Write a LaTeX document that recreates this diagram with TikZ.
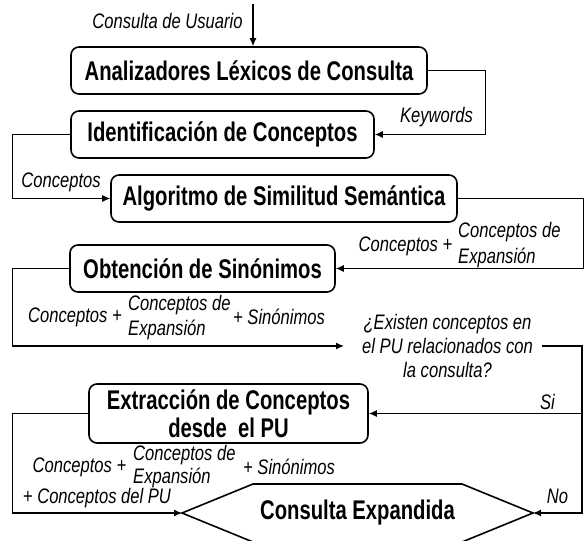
\documentclass[tikz,border=0pt]{standalone}
\usepackage{fontspec}
\setmainfont{Liberation Sans}
\newfontfamily\narrowfont{Liberation Sans}[FakeStretch=0.75]
\newfontfamily\labelfont{Liberation Sans}[FakeStretch=0.79]
\usetikzlibrary{arrows.meta}
\tikzset{
  proc/.style={draw, line width=1.6pt, rounded corners=8pt, minimum height=47pt, inner sep=0pt,
    font=\narrowfont\bfseries\fontsize{27}{28}\selectfont, align=center},
  lbl/.style={inner sep=0pt, font=\labelfont\itshape\fontsize{21}{24}\selectfont},
  conn/.style={line width=1.2pt, -{Latex[length=8pt,width=7pt]}},
  plain/.style={line width=1.2pt}
}
\begin{document}
\begin{tikzpicture}[x=1pt,y=-1pt]
\useasboundingbox (0,0) rectangle (585,540);
\clip (0,0) rectangle (585,540);
% boxes
\node[proc, minimum width=356pt] (b1) at (249,70.5) {Analizadores Léxicos de Consulta};
\node[proc, minimum width=303pt] (b2) at (222.5,134.5) {Identificación de Conceptos};
\node[proc, minimum width=346pt] (b3) at (284,198.5) {Algoritmo de Similitud Semántica};
\node[proc, minimum width=265pt] (b4) at (202.5,268.5) {Obtención de Sinónimos};
\node[proc, minimum width=279pt, minimum height=59pt] (b5) at (228.5,413.5) {Extracción de Conceptos\\desde\ \ el PU};
\node[lbl, align=center, inner xsep=9pt] (q) at (447.5,346) {¿Existen conceptos en\\el PU relacionados con\\la consulta?};
% hexagon
\coordinate (hexL) at (182,513);
\coordinate (hexR) at (533,513);
\draw[line width=1.6pt] (hexL) -- (253,484) -- (462,484) -- (hexR) -- (462,542) -- (253,542) -- cycle;
\node[inner sep=0pt, font=\narrowfont\bfseries\fontsize{27}{28}\selectfont] (hex) at (357.5,513) {Consulta Expandida};
% start
\coordinate (start) at (253,4);
% connectors
\draw[conn] (start) -- (b1.north -| start);
\draw[conn] (b1.east) -- ++(58,0) |- (b2.east);
\draw[conn] (b2.west) -- ++(-58,0) |- (b3.west);
\draw[conn] (b3.east) -- ++(126,0) |- (b4.east);
\draw[conn] (b4.west) -- ++(-57,0) |- ([xshift=-9pt]q.west);
\draw[conn] (q.east) -- ++(40,0) |- (b5.east);
\draw[conn] ([xshift=40pt]q.east) |- (hexR);
\draw[conn] (b5.west) -- ++(-76,0) |- (hexL);
% labels
\node[lbl] (l0) at (167.5,21) {Consulta de Usuario};
\node[lbl] (l1) at (436.5,117) {Keywords};
\node[lbl] (l2) at (61,182) {Conceptos};
\node[lbl] (l3a) at (405.5,246) {Conceptos +};
\node[lbl, anchor=west] (l3b) at (458,232) {Conceptos de};
\node[lbl, anchor=west] (l3c) at (458,258) {Expansión};
\node[lbl] (l4a) at (75,317) {Conceptos +};
\node[lbl, anchor=west] (l4b) at (128,305) {Conceptos de};
\node[lbl, anchor=west] (l4c) at (128,330) {Expansión};
\node[lbl, anchor=west] (l4d) at (233,317) {+ Sinónimos};
\node[lbl] (l5a) at (79.5,467) {Conceptos +};
\node[lbl, anchor=west] (l5b) at (133,455) {Conceptos de};
\node[lbl, anchor=west] (l5c) at (133,478) {Expansión};
\node[lbl, anchor=west] (l5d) at (243,467) {+ Sinónimos};
\node[lbl] (l5e) at (97,498) {+ Conceptos del PU};
\node[lbl] (lsi) at (547.5,402) {Si};
\node[lbl] (lno) at (557.5,496) {No};
\end{tikzpicture}
\end{document}
